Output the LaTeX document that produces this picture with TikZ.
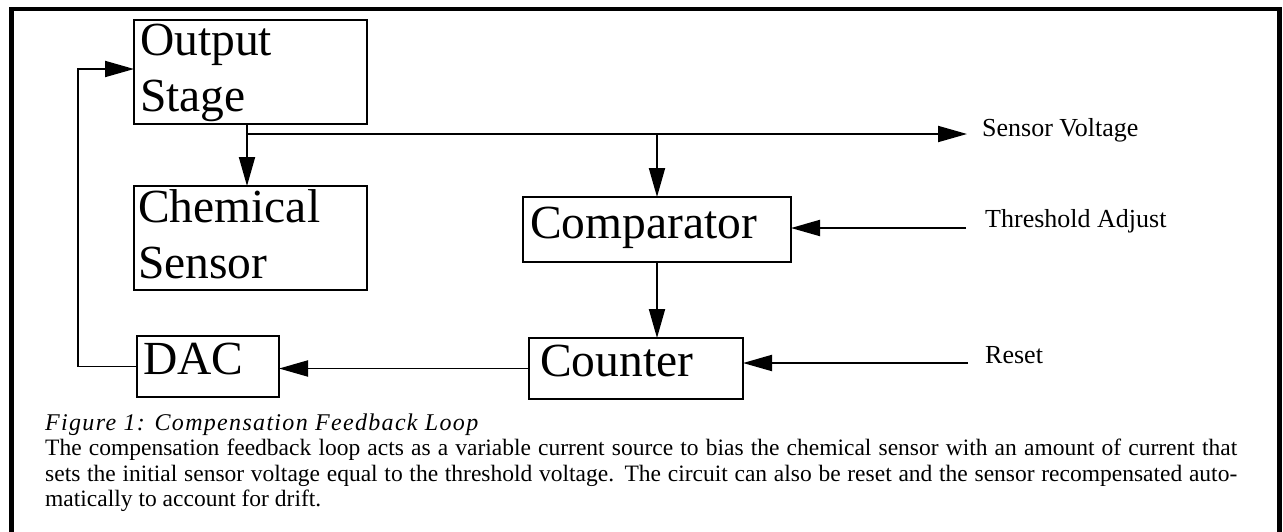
\documentclass[tikz,border=0pt]{standalone}
\usepackage{fontspec}
\setmainfont{Liberation Serif}
\newfontfamily\capfont[LetterSpace=5.5]{Liberation Serif}
\usetikzlibrary{arrows.meta}
\begin{document}
\begin{tikzpicture}[x=1pt,y=-1pt,
  blk/.style={draw, line width=1.9pt, inner sep=0pt, outer sep=0pt, anchor=north west},
  boxtxt/.style={anchor=base west, inner sep=0pt, font=\fontsize{47.5}{56}\selectfont},
  lbl/.style={anchor=base west, inner sep=0pt, font=\fontsize{26}{30}\selectfont},
  arr/.style={line width=1.9pt, line join=miter, -{Triangle[length=29pt,width=16pt]}}
]
\useasboundingbox (0,0) rectangle (1283,531);
% outer frame
\draw[line width=4.5pt, line join=miter] (11.7,540) -- (11.7,8.8) -- (1279.7,8.8) -- (1279.7,540);

% boxes
\node[blk, minimum width=233pt, minimum height=104pt] (out) at (134,20) {};
\node[blk, minimum width=233pt, minimum height=104pt] (chem) at (134,186) {};
\node[blk, minimum width=268pt, minimum height=65pt] (comp) at (523,197) {};
\node[blk, minimum width=214pt, minimum height=61pt] (cnt) at (529,338) {};
\node[blk, minimum width=142pt, minimum height=61pt] (dac) at (137,336) {};

% box texts
\node[boxtxt] (t1) at (140,55) {Output};
\node[boxtxt] (t2) at (140,111) {Stage};
\node[boxtxt] (t3) at (138,222) {Chemical};
\node[boxtxt] (t4) at (138,278) {Sensor};
\node[boxtxt] (t5) at (530,238) {Comparator};
\node[boxtxt] (t6) at (540,376) {Counter};
\node[boxtxt] (t7) at (143,374) {DAC};

% labels
\node[lbl] (sv) at (982,136) {Sensor Voltage};
\node[lbl] (ta) at (985,227) {Threshold Adjust};
\node[lbl] (rs) at (985,363) {Reset};

% connectors
\coordinate (j1) at (247,134);
\coordinate (j2) at (657,134);
\coordinate (fb) at (78,69);
\draw[arr] (out.south -| j1) -- (chem.north -| j1);
\draw[arr] (j1) -- ([xshift=-15pt]sv.base west |- j1);
\draw[arr] (j2) -- (comp.north);
\draw[arr] (comp.south) -- (comp.south |- cnt.north);
\draw[arr] ([xshift=-19pt]ta.base west |- 0,228) -- (comp.east |- 0,228);
\draw[arr] ([xshift=-17pt]rs.base west) -- (rs.base west -| cnt.east);
\draw[arr] (cnt.west) -- (cnt.west -| dac.east);
\draw[arr] (dac.west) -| (fb) -- (fb -| out.west);

% caption and text
\node[anchor=north west, inner sep=0pt, text width=1192pt, align=justify,
      font=\fontsize{23.5}{25.5}\selectfont] (capt) at (45,412.3)
{{\capfont\itshape\fontsize{24}{25.5}\selectfont\strut Figure 1: Compensation Feedback Loop\par}
The compensation feedback loop acts as a variable current source to bias the chemical sensor with an amount of current that\linebreak
sets the initial sensor voltage equal to the threshold voltage. The circuit can also be reset and the sensor recompensated auto-\linebreak
matically to account for drift.\par};
\end{tikzpicture}
\end{document}
